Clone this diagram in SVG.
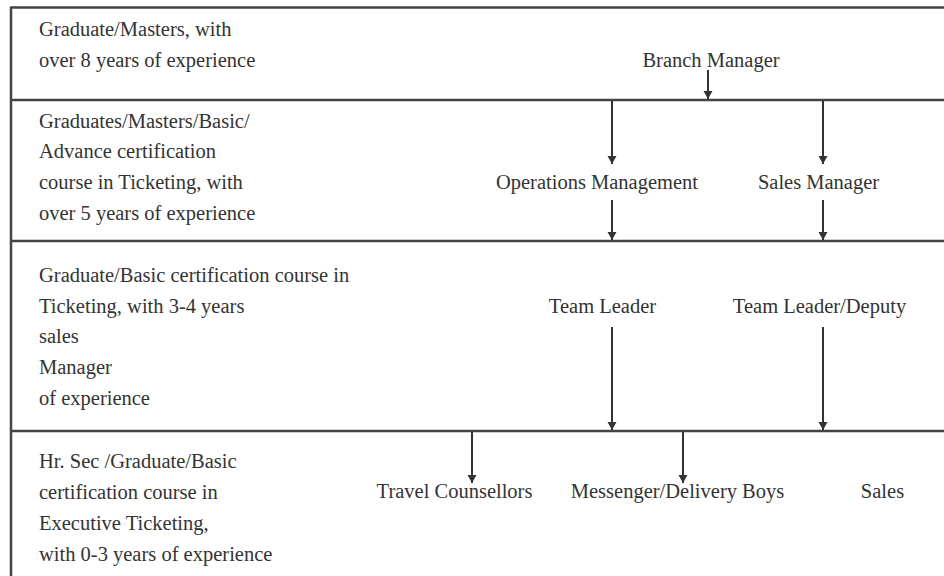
<svg xmlns="http://www.w3.org/2000/svg" width="944" height="576" viewBox="0 0 944 576">
<style>
  text { font-family: "Liberation Serif", "Times New Roman", serif; font-size: 20.5px; fill: #333; }
  .label text { text-anchor: start; }
  .node text { text-anchor: middle; }
  .frame { stroke: #444; stroke-width: 2.5; fill: none; }
  .conn line { stroke: #333; stroke-width: 2; marker-end: url(#arrow); }
</style>
<defs>
  <marker id="arrow" markerUnits="userSpaceOnUse" markerWidth="9" markerHeight="10" refX="8" refY="5" orient="auto" viewBox="0 0 9 10">
    <path d="M0,0.5 L8,5 L0,9.5 Z" fill="#333"/>
  </marker>
</defs>
<rect width="944" height="576" fill="#fff"/>
<g id="frame" class="frame">
  <line x1="11" y1="7.5" x2="944" y2="7.5"/>
  <line x1="11" y1="6.5" x2="11" y2="576"/>
  <line x1="11" y1="100" x2="944" y2="100"/>
  <line x1="11" y1="241" x2="944" y2="241"/>
  <line x1="11" y1="431" x2="944" y2="431"/>
</g>
<g id="level1-qualification" class="label">
  <text x="39" y="36">Graduate/Masters, with</text>
  <text x="39" y="67">over 8 years of experience</text>
</g>
<g id="level2-qualification" class="label">
  <text x="39" y="128">Graduates/Masters/Basic/</text>
  <text x="39" y="158">Advance certification</text>
  <text x="39" y="189">course in Ticketing, with</text>
  <text x="39" y="220">over 5 years of experience</text>
</g>
<g id="level3-qualification" class="label">
  <text x="39" y="282">Graduate/Basic certification course in</text>
  <text x="39" y="313">Ticketing, with 3-4 years</text>
  <text x="39" y="343">sales</text>
  <text x="39" y="374">Manager</text>
  <text x="39" y="405">of experience</text>
</g>
<g id="level4-qualification" class="label">
  <text x="39" y="468">Hr. Sec /Graduate/Basic</text>
  <text x="39" y="499">certification course in</text>
  <text x="39" y="530">Executive Ticketing,</text>
  <text x="39" y="561">with 0-3 years of experience</text>
</g>
<g id="branch-manager" class="node"><text x="711" y="67">Branch Manager</text></g>
<g id="operations-management" class="node"><text x="597" y="189">Operations Management</text></g>
<g id="sales-manager" class="node"><text x="818.5" y="189">Sales Manager</text></g>
<g id="team-leader" class="node"><text x="602.5" y="313">Team Leader</text></g>
<g id="team-leader-deputy" class="node"><text x="819.5" y="313">Team Leader/Deputy</text></g>
<g id="travel-counsellors" class="node"><text x="454.5" y="498">Travel Counsellors</text></g>
<g id="messenger-delivery-boys" class="node"><text x="677.5" y="498">Messenger/Delivery Boys</text></g>
<g id="sales" class="node"><text x="882.5" y="498">Sales</text></g>
<g id="connectors" class="conn">
  <line x1="708" y1="70" x2="708" y2="99"/>
  <line x1="612" y1="101" x2="612" y2="164"/>
  <line x1="612" y1="200" x2="612" y2="240"/>
  <line x1="823" y1="101" x2="823" y2="164"/>
  <line x1="823" y1="200" x2="823" y2="240"/>
  <line x1="612" y1="327" x2="612" y2="430"/>
  <line x1="823" y1="327" x2="823" y2="430"/>
  <line x1="472" y1="432" x2="472" y2="483"/>
  <line x1="683" y1="432" x2="683" y2="483"/>
</g>
</svg>
